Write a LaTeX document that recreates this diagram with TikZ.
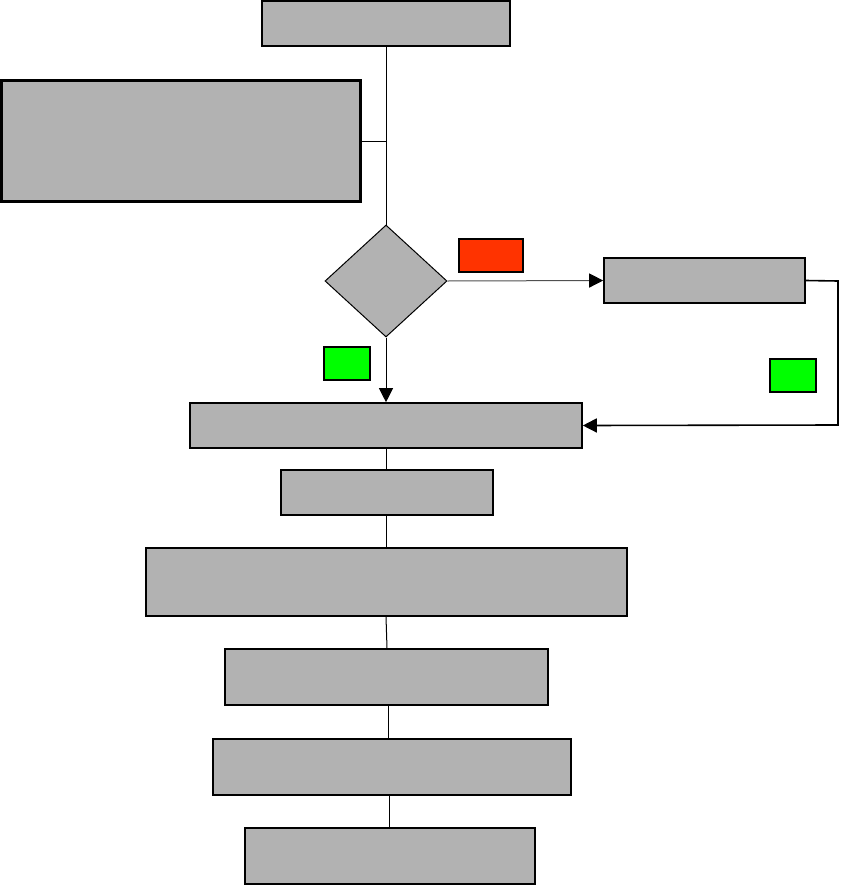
\documentclass[tikz,border=0pt]{standalone}
\usetikzlibrary{arrows.meta,shapes.geometric}
\definecolor{boxgray}{RGB}{178,178,178}
\definecolor{redlab}{RGB}{255,51,0}
\definecolor{greenlab}{RGB}{0,255,0}
\definecolor{linegray}{RGB}{80,80,80}
\tikzset{
  pbox/.style={draw=black,fill=boxgray,line width=1.6pt,inner sep=0pt,anchor=center},
  tag/.style={draw=black,line width=1.6pt,inner sep=0pt,anchor=center},
  link/.style={draw=black,line width=1pt},
  tipshape/.style={-{Triangle[length=14pt,width=14pt,color=black]}},
  arr/.style={link,tipshape}
}
\newcommand{\rbox}[6]{% name, x1,y1,x2,y2, style
  \node[#6,minimum width=#4pt-#2pt,minimum height=#5pt-#3pt] (#1) at ({(#2+#4)/2*1pt},{-(#3+#5)/2*1pt}) {};
}
\begin{document}
\begin{tikzpicture}[x=1pt,y=-1pt]
\useasboundingbox (0,0) rectangle (845,886);
\rbox{top}{262}{1}{510}{46}{pbox}
\node[pbox,line width=2.4pt,minimum width=359pt,minimum height=121pt] (left) at (181,141) {};
\node[diamond,draw=black,fill=boxgray,line width=1pt,inner sep=0pt,minimum width=122pt,minimum height=112pt] (dec) at (386,281) {};
\rbox{red}{459}{239}{523}{272}{tag,fill=redlab}
\rbox{rbox}{604}{258}{805}{303}{pbox}
\rbox{gl}{324}{347}{370}{380}{tag,fill=greenlab}
\rbox{gr}{770}{359}{816}{392}{tag,fill=greenlab}
\rbox{a}{190}{403}{582}{448}{pbox}
\rbox{b}{281}{470}{493}{515}{pbox}
\rbox{c}{146}{548}{627}{616}{pbox}
\rbox{d}{225}{649}{548}{705}{pbox}
\rbox{e}{213}{739}{571}{795}{pbox}
\rbox{f}{245}{828}{535}{884}{pbox}
\coordinate (j) at (386,141);
\coordinate (r1) at (838,281);
\coordinate (r2) at (838,425);
\draw[link] (top.south -| dec.north) -- (dec.north);
\draw[link] (left.east) -- (j);
\draw[arr,draw=linegray] (dec.east) -- (rbox.west);
\draw[arr] (dec.south) -- (dec.south |- a.north);
\draw[arr,line width=1.6pt] (rbox.east) -- (r1) -- (r2) -- (a.east);
\draw[link] (a.south -| 386,0) -- (b.north -| 386,0);
\draw[link] (b.south -| 386,0) -- (c.north -| 386,0);
\draw[link] (c.south -| 386,0) -- (d.north -| 387,0);
\draw[link] (d.south -| 388,0) -- (e.north -| 388,0);
\draw[link] (e.south -| 389,0) -- (f.north -| 389,0);
\end{tikzpicture}
\end{document}
